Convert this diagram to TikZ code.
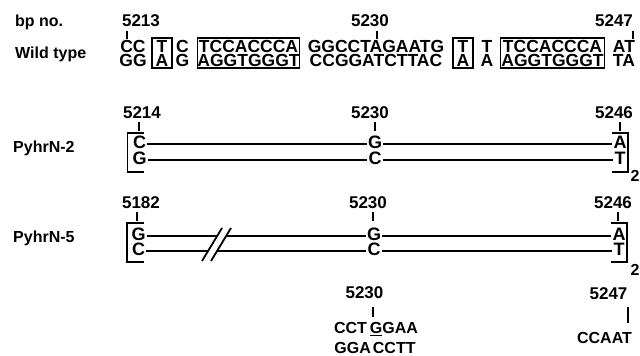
\documentclass[tikz,border=0pt]{standalone}
\usepackage{fontspec}
\setmainfont{Liberation Sans}
\begin{document}
\begin{tikzpicture}[x=1pt,y=-1pt,
  lab/.style={font=\fontsize{16}{16}\selectfont\bfseries, anchor=base west, inner sep=0pt},
  num/.style={font=\fontsize{17}{17}\selectfont\bfseries, inner sep=0pt},
  seq/.style={font=\fontsize{17.5}{14}\selectfont\bfseries, align=center, inner sep=0pt},
  bx/.style={seq, draw, line width=1.6pt, minimum height=30pt},
  base/.style={font=\fontsize{18}{18}\selectfont\bfseries, inner sep=1pt},
  small/.style={font=\fontsize{16}{16}\selectfont\bfseries, inner sep=0pt, anchor=base},
  tick/.style={line width=1.8pt},
  strand/.style={line width=2pt},
  brk/.style={line width=1.8pt}]
\useasboundingbox (0,0) rectangle (640,356);

% ---------- labels
\node[lab] (lbp) at (15,26) {bp no.};
\node[lab] (lwt) at (15,58) {Wild type};
\node[lab] (lp2) at (13,152) {PyhrN-2};
\node[lab] (lp5) at (13,242) {PyhrN-5};

% ---------- row 1 : wild type
\node[num] (n5213) at (141,21) {5213};
\node[num] (n5230a) at (370,21) {5230};
\node[num] (n5247a) at (614,21) {5247};
\draw[tick] (127,31) -- (127,39);
\draw[tick] (377,31) -- (377,39);
\draw[tick] (633,31) -- (633,39);

\node[seq] (s1) at (133,53) {CC\\GG};
\node[bx, minimum width=20pt] (b1) at (162,53) {T\\A};
\node[seq] (s2) at (182.5,53) {C\\G};
\node[bx, minimum width=102pt] (b2) at (248.5,53) {TCCACCCA\\AGGTGGGT};
\node[seq] (s3) at (376,53) {GGCCTAGAATG\\CCGGATCTTAC};
\node[bx, minimum width=20pt] (b3) at (463,53) {T\\A};
\node[seq] (s4) at (487,53) {T\\A};
\node[bx, minimum width=104pt] (b4) at (552.5,53) {TCCACCCA\\AGGTGGGT};
\node[seq] (s5) at (624,53) {AT\\TA};

% ---------- row 2 : PyhrN-2
\node[num] (n5214) at (142,113) {5214};
\node[num] (n5230b) at (370,113) {5230};
\node[num] (n5246b) at (614,113) {5246};
\draw[tick] (139,122) -- (139,131);
\draw[tick] (375,122) -- (375,131);
\draw[tick] (620,122) -- (620,131);

\node[base] (a2tl) at (139.5,142) {C};
\node[base] (a2bl) at (139.5,158) {G};
\node[base] (a2tm) at (375,142) {G};
\node[base] (a2bm) at (375,158) {C};
\node[base] (a2tr) at (620,142) {A};
\node[base] (a2br) at (620,158) {T};
\draw[strand] ([yshift=-2pt]a2tl.east) -- ([yshift=-2pt]a2tm.west);
\draw[strand] ([yshift=-2pt]a2tm.east) -- ([yshift=-2pt]a2tr.west);
\draw[strand] ([yshift=-2pt]a2bl.east) -- ([yshift=-2pt]a2bm.west);
\draw[strand] ([yshift=-2pt]a2bm.east) -- ([yshift=-2pt]a2br.west);
\draw[tick] (144,133) -- (127.5,133) -- (127.5,172) -- (144,172);
\draw[tick] (612,133) -- (628,133) -- (628,172) -- (612,172);
\node[small] (sub2a) at (635,181) {2};

% ---------- row 3 : PyhrN-5
\node[num] (n5182) at (141,203) {5182};
\node[num] (n5230c) at (368,203) {5230};
\node[num] (n5246c) at (613,203) {5246};
\draw[tick] (137,212) -- (137,221);
\draw[tick] (373,212) -- (373,221);
\draw[tick] (618,212) -- (618,221);

\node[base] (a3tl) at (138.5,234) {G};
\node[base] (a3bl) at (138.5,249) {C};
\node[base] (a3tm) at (374,234) {G};
\node[base] (a3bm) at (374,249) {C};
\node[base] (a3tr) at (619,234) {A};
\node[base] (a3br) at (619,249) {T};
\draw[strand] ([yshift=-2pt]a3tl.east) -- ([yshift=-2pt]a3tm.west);
\draw[strand] ([yshift=-2pt]a3tm.east) -- ([yshift=-2pt]a3tr.west);
\draw[strand] ([yshift=-2pt]a3bl.east) -- ([yshift=-2pt]a3bm.west);
\draw[strand] ([yshift=-2pt]a3bm.east) -- ([yshift=-2pt]a3br.west);
\fill[white] (203.5,259) -- (221.5,229) -- (230.5,229) -- (212.5,259) -- cycle;
\draw[brk] (202,261) -- (222,228);
\draw[brk] (211,261) -- (231,228);
\draw[tick] (144,223) -- (127,223) -- (127,262) -- (144,262);
\draw[tick] (611,223) -- (627,223) -- (627,262) -- (611,262);
\node[small] (sub2b) at (635,275) {2};

% ---------- row 4
\node[num] (n5230d) at (364.5,292.5) {5230};
\node[num] (n5247d) at (608.5,293.5) {5247};
\draw[tick] (373,307) -- (373,317);
\draw[tick] (628,307) -- (628,323);
\node[small] (r4t) at (376,333.5) {CCT\hspace{3pt}\underline{G}GAA};
\node[small] (r4b) at (375,353) {GGA\hspace{2pt}CCTT};
\node[small] (r4c) at (604.5,343) {CCAAT};
\end{tikzpicture}
\end{document}
